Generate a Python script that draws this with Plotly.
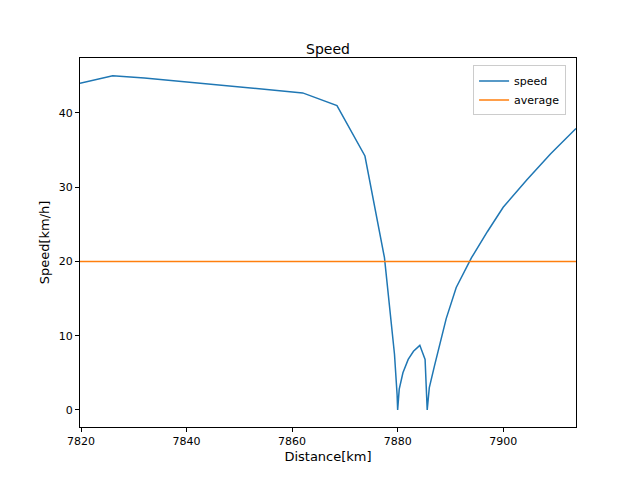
import plotly.graph_objects as go

distance = [7819.8, 7826, 7832, 7862, 7868.5, 7873.8, 7877.5, 7879.4, 7879.9, 7880.0,
            7880.3, 7881, 7882, 7883, 7884.2, 7885.2, 7885.6, 7886, 7887, 7889.2,
            7891.1, 7894, 7897, 7900, 7904.5, 7909, 7913.8]
speed = [44.0, 45.0, 44.7, 42.7, 41.0, 34.2, 20.5, 7.5, 2.0, 0.0,
         2.8, 5.0, 6.8, 7.9, 8.7, 6.8, 0.0, 3.0, 6.0, 12.3,
         16.5, 20.5, 24.0, 27.3, 31.0, 34.5, 37.9]
average = 20.0
x_range = [7819.8, 7913.8]

fig = go.Figure()
fig.add_trace(go.Scatter(x=distance, y=speed, mode='lines', name='speed',
                         line=dict(color='#1f77b4', width=1.5)))
fig.add_trace(go.Scatter(x=x_range, y=[average, average], mode='lines', name='average',
                         line=dict(color='#ff7f0e', width=1.5)))

axis_style = dict(showgrid=False, zeroline=False, showline=True, mirror=True,
                  linecolor='black', linewidth=1, ticks='outside', ticklen=4,
                  tickcolor='black', tickfont=dict(size=11, color='black'))

fig.update_layout(
    width=640, height=480,
    margin=dict(l=72, r=72, t=50, b=61),
    paper_bgcolor='white', plot_bgcolor='white',
    font=dict(family='DejaVu Sans', color='black', size=11),
    title=dict(text='Speed', x=0.5, xanchor='center', y=0.925, font=dict(size=14)),
    xaxis=dict(title=dict(text='Distance[km]', standoff=4), range=x_range,
               tickvals=[7820, 7840, 7860, 7880, 7900], **axis_style),
    yaxis=dict(title=dict(text='Speed[km/h]', standoff=6), range=[-2.3, 47.4],
               tickvals=[0, 10, 20, 30, 40], **axis_style),
    legend=dict(x=0.98, y=0.98, xanchor='right', yanchor='top',
                bordercolor='#cccccc', borderwidth=1, bgcolor='white',
                font=dict(size=11)),
)

fig.write_html("out.html")
